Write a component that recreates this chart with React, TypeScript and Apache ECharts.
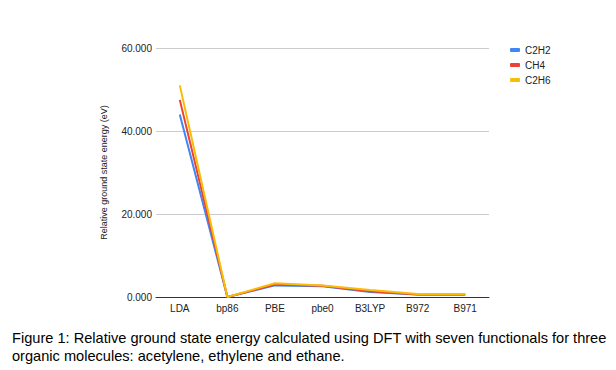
import React, { useEffect, useRef } from "react";
import * as echarts from "echarts";

const categories = ["LDA", "bp86", "PBE", "pbe0", "B3LYP", "B972", "B971"];
const c2h2 = [44.0, 0.0, 2.8, 2.6, 1.2, 0.6, 0.6];
const ch4 = [47.5, 0.0, 3.0, 2.7, 1.4, 0.6, 0.6];
const c2h6 = [51.0, 0.0, 3.3, 2.8, 1.7, 0.7, 0.7];
const seriesNames = ["C2H2", "CH4", "C2H6"];
const seriesColors = ["#4285F4", "#EA4335", "#FBBC04"];
const captionLines = [
  "Figure 1: Relative ground state energy calculated using DFT with seven functionals for three",
  "organic molecules: acetylene, ethylene and ethane.",
];

export default function App() {
  const ref = useRef<HTMLDivElement>(null);
  useEffect(() => {
    if (!ref.current) return;
    const chart = echarts.init(ref.current, null, { renderer: "svg" });
    const data = [c2h2, ch4, c2h6];
    chart.setOption({
      animation: false,
      backgroundColor: "#ffffff",
      textStyle: { fontFamily: "Liberation Sans, Arial, sans-serif" },
      grid: { left: 156, right: 127, top: 48, bottom: 73 },
      legend: {
        orient: "vertical",
        left: 505,
        top: 40,
        itemGap: 5,
        itemWidth: 10,
        itemHeight: 4,
        icon: "roundRect",
        textStyle: { fontSize: 10, color: "#222", fontFamily: "Liberation Sans, Arial, sans-serif" },
        data: seriesNames,
      },
      xAxis: {
        type: "category",
        data: categories,
        boundaryGap: true,
        axisLine: { show: true, lineStyle: { color: "#333", width: 1 } },
        axisTick: { show: false },
        axisLabel: { fontSize: 10, color: "#222", margin: 6 },
      },
      yAxis: {
        type: "value",
        min: 0,
        max: 60,
        interval: 20,
        name: "Relative ground state energy (eV)",
        nameLocation: "middle",
        nameGap: 48,
        nameTextStyle: { fontSize: 9, color: "#222" },
        axisLine: { show: false },
        axisTick: { show: false },
        axisLabel: {
          fontSize: 10,
          color: "#222",
          margin: 4,
          formatter: (v: number) => v.toFixed(3),
        },
        splitLine: { lineStyle: { color: "#cccccc", width: 1 } },
      },
      series: seriesNames.map((n, i) => ({
        name: n,
        type: "line",
        data: data[i],
        showSymbol: false,
        symbol: "none",
        lineStyle: { width: 2, color: seriesColors[i] },
        itemStyle: { color: seriesColors[i] },
        z: 2 + i,
      })),
      graphic: captionLines.map((t, i) => ({
        type: "text",
        left: 12,
        top: 330 + i * 18,
        style: {
          text: t,
          fontSize: 14.6,
          fill: "#000",
          fontFamily: "Liberation Sans, Arial, sans-serif",
        },
      })),
    });
    return () => chart.dispose();
  }, []);
  return (
    <div
      ref={ref}
      style={{ position: "absolute", left: 0, top: 0, width: 616, height: 370 }}
    />
  );
}
